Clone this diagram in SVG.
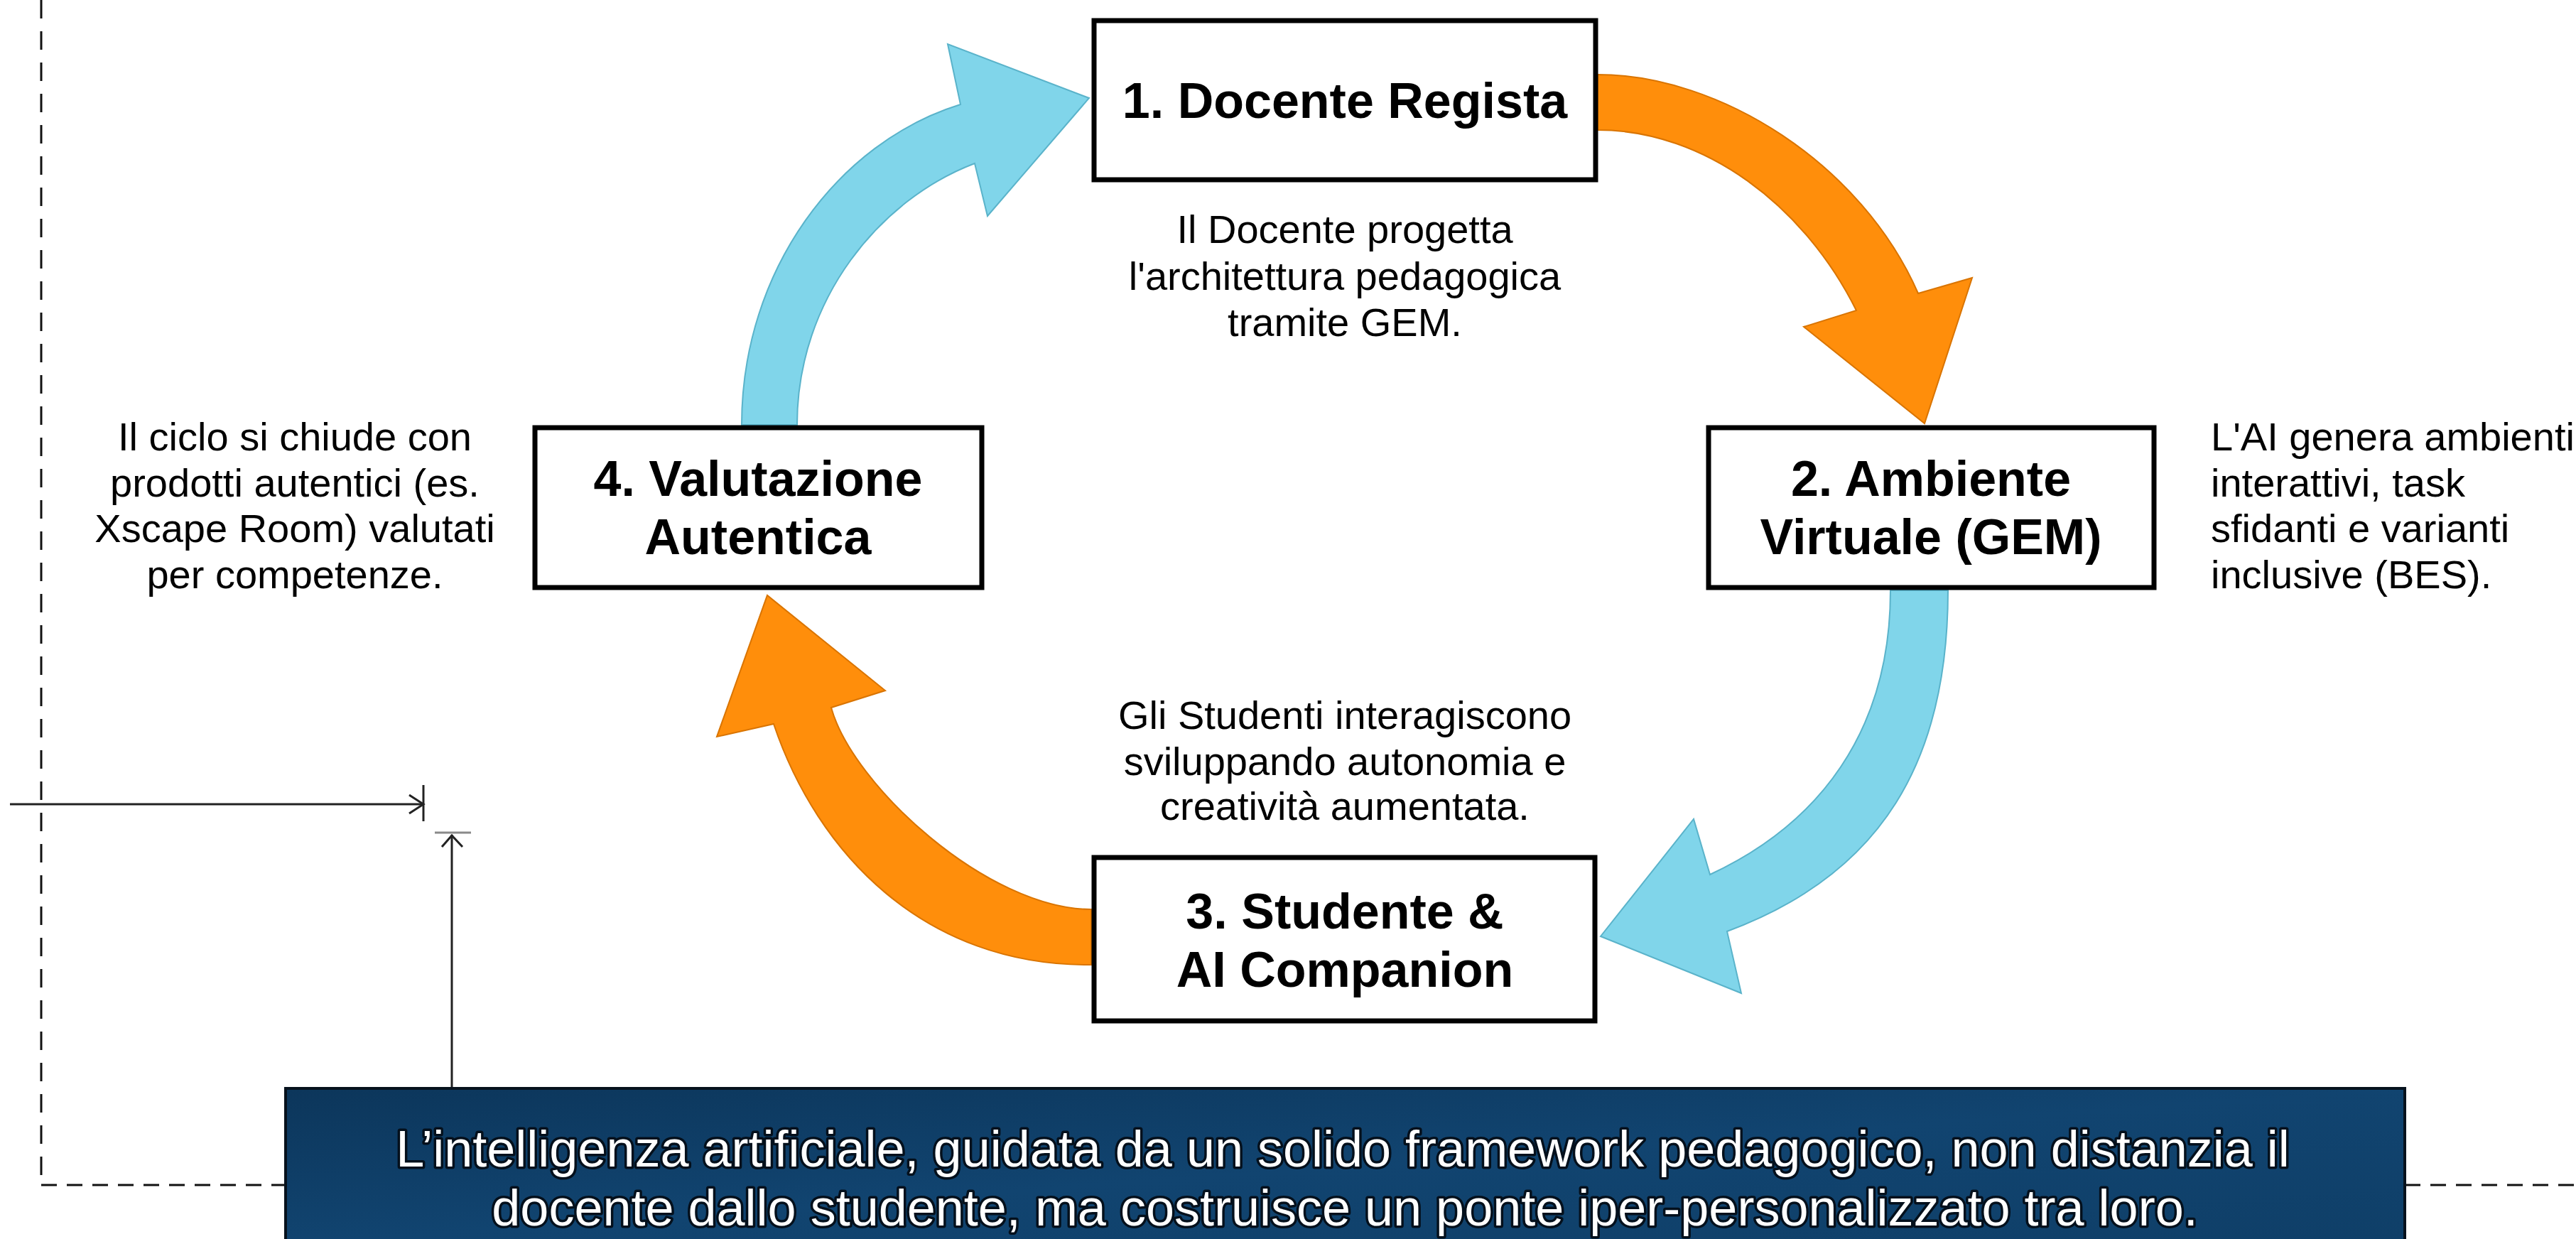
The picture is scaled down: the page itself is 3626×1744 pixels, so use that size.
<svg xmlns="http://www.w3.org/2000/svg" width="3626" height="1744" viewBox="0 0 3626 1744">
<defs>
<linearGradient id="bannerGrad" x1="0" y1="0" x2="1" y2="1">
<stop offset="0" stop-color="#0c365b"/>
<stop offset="0.5" stop-color="#114470"/>
<stop offset="1" stop-color="#0f3f68"/>
</linearGradient>
<style>
.box{fill:#ffffff;stroke:#000000;stroke-width:7}
.ttl{font-family:"Liberation Sans",Arial,sans-serif;font-weight:bold;font-size:70px;fill:#000;text-anchor:middle}
.desc{font-family:"Liberation Sans",Arial,sans-serif;font-size:56px;fill:#000}
.mid{text-anchor:middle}
.org{fill:#ff8e0b;stroke:#d97400;stroke-width:2;stroke-linejoin:miter}
.blu{fill:#80d5ea;stroke:#5ab3ca;stroke-width:2;stroke-linejoin:miter}
.dash{fill:none;stroke:#111;stroke-width:3}
.thin{fill:none;stroke:#222;stroke-width:3}
.banner-t{font-family:"Liberation Sans",Arial,sans-serif;font-size:72px;fill:#ffffff;stroke:#04101c;stroke-width:7;paint-order:stroke;stroke-linejoin:round;text-anchor:middle}
</style>
</defs>
<rect x="0" y="0" width="3626" height="1744" fill="#ffffff"/>

<g id="guides">
<line class="dash" x1="58" y1="0" x2="58" y2="1667" stroke-dasharray="26 18"/>
<line class="dash" x1="58" y1="1668" x2="402" y2="1668" stroke-dasharray="22 14"/>
<line class="dash" x1="3385" y1="1668" x2="3626" y2="1668" stroke-dasharray="22 14"/>
<line class="thin" x1="14" y1="1132" x2="596" y2="1132"/>
<polyline class="thin" points="576,1119 596,1132 576,1145"/>
<line class="thin" x1="596" y1="1105" x2="596" y2="1156"/>
<line class="thin" x1="636" y1="1531" x2="636" y2="1175"/>
<polyline class="thin" points="622,1192 636,1176 651,1192"/>
<line x1="612" y1="1172" x2="663" y2="1172" stroke="#8a8a8a" stroke-width="3"/>
</g>

<g id="connectors">
<path id="arrow-1-2" class="org" d="M2249,105 C2420,105 2620,230 2700,413 L2776,391 L2709,596 L2539,460 L2613,437 C2540,290 2400,183 2249,183 Z"/>
<path id="arrow-2-3" class="blu" d="M2742,831 C2742,1070 2650,1230 2431,1311 L2451,1398 L2253,1318 L2384,1153 L2407,1231 C2560,1160 2661,1030 2661,831 Z"/>
<path id="arrow-3-4" class="org" d="M1536,1358 C1300,1360 1150,1200 1089,1019 L1009,1037 L1080,838 L1246,972 L1170,996 C1200,1105 1390,1280 1536,1280 Z"/>
<path id="arrow-4-1" class="blu" d="M1044,598 C1044,380 1180,200 1352,147 L1334,62 L1533,138 L1390,304 L1372,230 C1240,280 1122,420 1122,598 Z"/>
</g>

<g id="node1">
<rect class="box" x="1540" y="29" width="706" height="224"/>
<text class="ttl" x="1893" y="166">1. Docente Regista</text>
<text class="desc mid" x="1893" y="342">Il Docente progetta</text>
<text class="desc mid" x="1893" y="408">l'architettura pedagogica</text>
<text class="desc mid" x="1893" y="473">tramite GEM.</text>
</g>

<g id="node2">
<rect class="box" x="2405" y="602" width="627" height="225"/>
<text class="ttl" x="2718" y="698">2. Ambiente</text>
<text class="ttl" x="2718" y="780">Virtuale (GEM)</text>
<text class="desc" x="3112" y="634">L'AI genera ambienti</text>
<text class="desc" x="3112" y="699">interattivi, task</text>
<text class="desc" x="3112" y="763">sfidanti e varianti</text>
<text class="desc" x="3112" y="828">inclusive (BES).</text>
</g>

<g id="node3">
<rect class="box" x="1540" y="1207" width="705" height="230"/>
<text class="ttl" x="1893" y="1307">3. Studente &amp;</text>
<text class="ttl" x="1893" y="1389">AI Companion</text>
<text class="desc mid" x="1893" y="1026">Gli Studenti interagiscono</text>
<text class="desc mid" x="1893" y="1091">sviluppando autonomia e</text>
<text class="desc mid" x="1893" y="1154">creatività aumentata.</text>
</g>

<g id="node4">
<rect class="box" x="753" y="602" width="629" height="225"/>
<text class="ttl" x="1067" y="698">4. Valutazione</text>
<text class="ttl" x="1067" y="780">Autentica</text>
<text class="desc mid" x="415" y="634">Il ciclo si chiude con</text>
<text class="desc mid" x="415" y="699">prodotti autentici (es.</text>
<text class="desc mid" x="415" y="763">Xscape Room) valutati</text>
<text class="desc mid" x="415" y="828">per competenze.</text>
</g>

<g id="banner">
<rect x="402" y="1532" width="2983" height="220" fill="url(#bannerGrad)" stroke="#07121d" stroke-width="4"/>
<text class="banner-t" x="1890" y="1642">L’intelligenza artificiale, guidata da un solido framework pedagogico, non distanzia il</text>
<text class="banner-t" x="1893" y="1725">docente dallo studente, ma costruisce un ponte iper-personalizzato tra loro.</text>
</g>
</svg>
